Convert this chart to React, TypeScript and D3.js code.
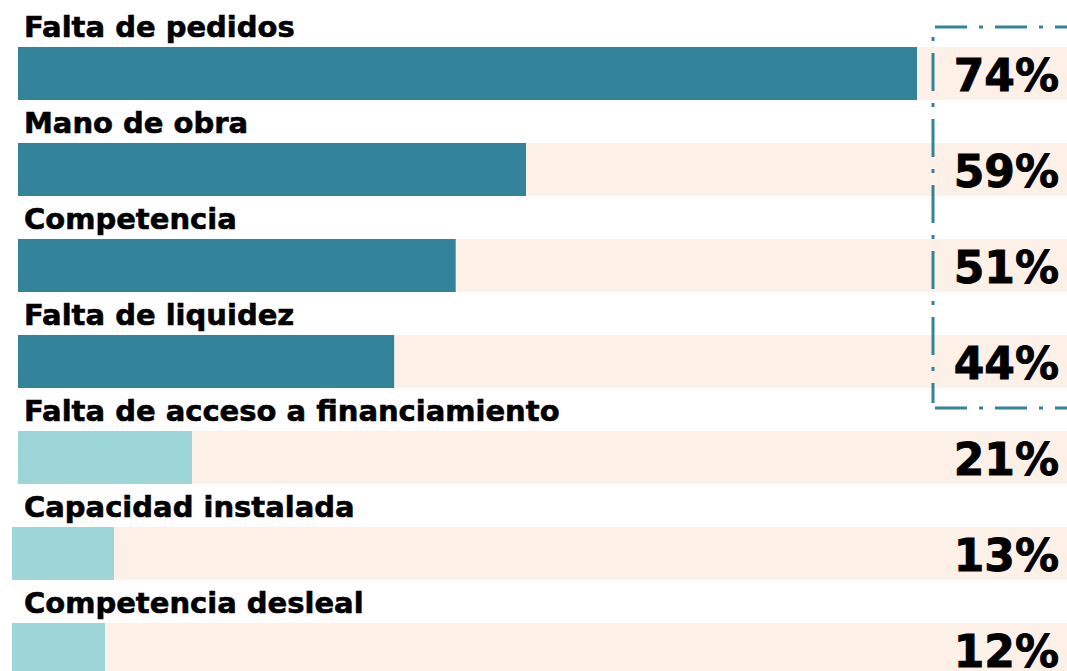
import React from 'react';
import * as d3 from 'd3';

const categories = [
  'Falta de pedidos',
  'Mano de obra',
  'Competencia',
  'Falta de liquidez',
  'Falta de acceso a financiamiento',
  'Capacidad instalada',
  'Competencia desleal',
];
const values = [74, 59, 51, 44, 21, 13, 12];
const highlighted = [true, true, true, true, false, false, false];

const W = 1067;
const H = 671;

const App: React.FC = () => {
  // the original infographic does not keep one strict scale, so bend it a bit
  const x = d3.scaleLinear().domain([0, 12, 21, 59, 74]).range([0, 93, 174, 508, 899]);

  const y = d3.scaleBand<number>()
    .domain(d3.range(categories.length))
    .range([47, 47 + 96 * categories.length]);

  const barH = 53;

  const font = '"DejaVu Sans", sans-serif';
  const dark = '#33849b';
  const light = '#9dd6d9';
  const track = '#fdf0e7';

  // dashed box around the top four values
  const boxLeft = 933;
  const boxTop = 27;
  const boxBottom = 408;

  return (
    <svg width={W} height={H} style={{ position: 'absolute', left: 0, top: 0 }}>
      {categories.map((c, i) => {
        const x0 = i < 5 ? 18 : 12;
        const t = y(i) as number;
        return (
          <g key={c}>
            <rect x={x0} y={t} width={W - x0} height={barH} fill={track} />
            <rect x={x0} y={t} width={x(values[i])} height={barH} fill={highlighted[i] ? dark : light} />
            <text x={24} y={t - 10} fontFamily={font} fontWeight={700} fontSize={29}
              fill="#000" stroke="#000" strokeWidth={0.6}>{c}</text>
            <text x={1059} y={t + 44} textAnchor="end" fontFamily={font} fontWeight={700} fontSize={44}
              fill="#000" stroke="#000" strokeWidth={0.9}>
              {values[i]}%
            </text>
          </g>
        );
      })}
      <g fill="none" stroke={dark} strokeWidth={3} strokeDasharray="32 12 4 12">
        <path d={`M${boxLeft + 2},${boxTop}H${W}`} />
        <path d={`M${boxLeft + 2},${boxBottom}H${W}`} />
        <path d={`M${boxLeft},${boxTop + 10}V${boxBottom - 5}`} strokeDasharray="4 12 38 12" />
      </g>
    </svg>
  );
};

export default App;
